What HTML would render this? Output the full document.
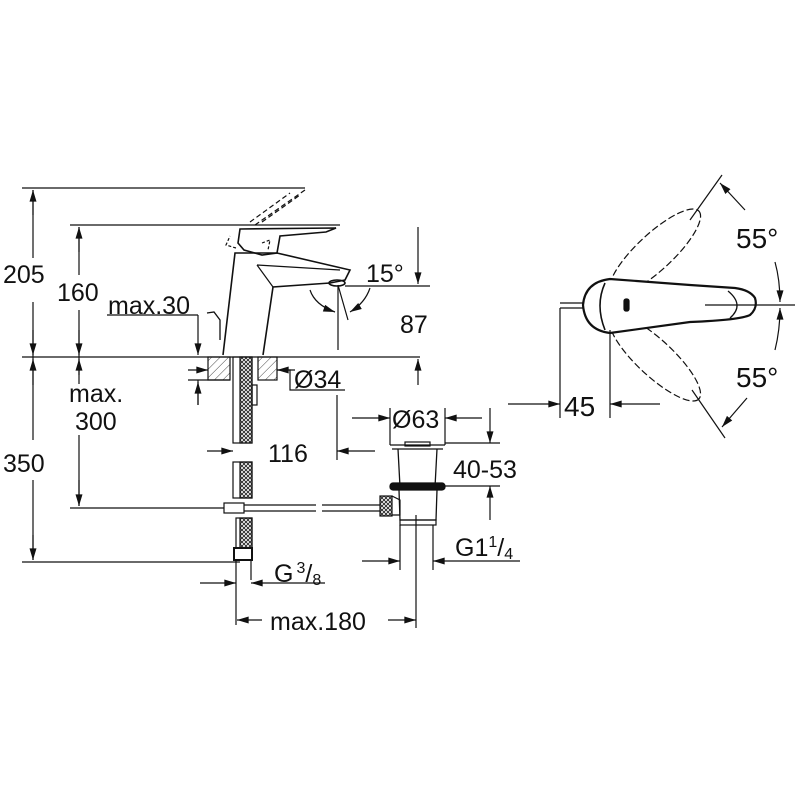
<!DOCTYPE html>
<html><head><meta charset="utf-8"><style>
html,body{margin:0;padding:0;background:#fff}
svg{display:block}
text{font-family:"Liberation Sans",sans-serif;fill:#111}
</style></head><body>
<svg width="799" height="799" viewBox="0 0 799 799" xmlns="http://www.w3.org/2000/svg">
<defs>
<marker id="a" viewBox="0 0 10 6" refX="10" refY="3" markerWidth="12" markerHeight="7" orient="auto-start-reverse" markerUnits="userSpaceOnUse"><path d="M0,0L10,3L0,6z" fill="#111"/></marker>
<pattern id="br" width="4" height="4" patternUnits="userSpaceOnUse"><path d="M0,0L4,4M4,0L0,4" stroke="#222" stroke-width="0.9"/></pattern>
<pattern id="ht" width="6" height="6" patternUnits="userSpaceOnUse" patternTransform="rotate(45)"><path d="M0,0V6" stroke="#333" stroke-width="0.9"/></pattern>
</defs>
<g stroke="#111" stroke-width="1.2" fill="none">
<line x1="22" y1="188" x2="305" y2="188"/>
<line x1="70" y1="225" x2="340" y2="225"/>
<line x1="22" y1="357" x2="420" y2="357"/>
<line x1="22" y1="562" x2="240" y2="562"/>
<line x1="70" y1="508" x2="240" y2="508"/>
<line x1="33" y1="190" x2="33" y2="258"/>
<line x1="33" y1="302" x2="33" y2="440"/>
<line x1="33" y1="480" x2="33" y2="560"/>
<line x1="33" y1="190" x2="33" y2="215" marker-start="url(#a)"/>
<line x1="33" y1="330" x2="33" y2="355" marker-end="url(#a)"/>
<line x1="33" y1="359" x2="33" y2="385" marker-start="url(#a)"/>
<line x1="33" y1="535" x2="33" y2="560" marker-end="url(#a)"/>
<line x1="79" y1="227" x2="79" y2="275"/>
<line x1="79" y1="310" x2="79" y2="375"/>
<line x1="79" y1="435" x2="79" y2="506"/>
<line x1="79" y1="227" x2="79" y2="252" marker-start="url(#a)"/>
<line x1="79" y1="330" x2="79" y2="355" marker-end="url(#a)"/>
<line x1="79" y1="359" x2="79" y2="384" marker-start="url(#a)"/>
<line x1="79" y1="480" x2="79" y2="506" marker-end="url(#a)"/>
<line x1="107" y1="315" x2="198" y2="315"/>
<line x1="198" y1="315" x2="198" y2="355" marker-end="url(#a)"/>
<line x1="198" y1="380" x2="198" y2="405"/>
<line x1="198" y1="405" x2="198" y2="382" marker-end="url(#a)"/>
<line x1="188" y1="380" x2="230" y2="380"/>
<path d="M223,355 L235,253 L277,253 L350,270 L345,280 L330,283 L273,287 L263,355" stroke-width="1.6"/>
<path d="M257,265 L340,270 M257,265 L273,287"/>
<path d="M240,229 L336,228 L326,232 L280,236 L277,253 L262,255 L244,250 L238,243 Z" stroke-width="1.6"/>
<path d="M262,243 L270,240 L268,250" stroke-dasharray="3,2"/>
<path d="M236,248 L226,245 L230,236" stroke-dasharray="3,2"/>
<path d="M255,225 L305,190 M262,222 L300,195 M250,222 L290,193" stroke-dasharray="5,3"/>
<ellipse cx="337" cy="283" rx="8" ry="3" stroke-width="1.6"/>
<path d="M207,313 L214,312 L220,320 L220,340" stroke-width="1.3"/>
<line x1="338" y1="285" x2="338" y2="350"/>
<line x1="338" y1="285" x2="348" y2="320"/>
<line x1="345" y1="286" x2="430" y2="286"/>
<path d="M310,290 Q315,305 335,312" marker-end="url(#a)"/>
<path d="M370,288 Q365,303 350,312" marker-end="url(#a)"/>
<line x1="418" y1="227" x2="418" y2="284" marker-end="url(#a)"/>
<line x1="418" y1="385" x2="418" y2="359" marker-end="url(#a)"/>
<rect x="208" y="357" width="22" height="23" fill="url(#ht)"/>
<rect x="258" y="357" width="19" height="23" fill="url(#ht)"/>
<line x1="188" y1="370" x2="208" y2="370" marker-end="url(#a)"/>
<line x1="295" y1="370" x2="277" y2="370" marker-end="url(#a)"/>
<path d="M277,370 L290,370 L290,390 L345,390"/>
<rect x="233" y="357" width="19" height="86"/>
<rect x="240" y="357" width="12" height="86" fill="url(#br)"/>
<rect x="252" y="385" width="5" height="20"/>
<rect x="233" y="462" width="19" height="36"/>
<rect x="240" y="462" width="12" height="36" fill="url(#br)"/>
<rect x="236" y="518" width="16" height="30"/>
<rect x="240" y="518" width="12" height="30" fill="url(#br)"/>
<rect x="234" y="548" width="18" height="12" stroke-width="2"/>
<line x1="236" y1="560" x2="236" y2="625"/>
<line x1="251" y1="560" x2="251" y2="580"/>
<rect x="224" y="503" width="20" height="10" fill="#fff"/>
<line x1="244" y1="505" x2="316" y2="505"/>
<line x1="244" y1="511" x2="316" y2="511"/>
<line x1="322" y1="505" x2="380" y2="505"/>
<line x1="322" y1="511" x2="380" y2="511"/>
<line x1="207" y1="451" x2="233" y2="451" marker-end="url(#a)"/>
<line x1="337" y1="395" x2="337" y2="460"/>
<line x1="375" y1="451" x2="337" y2="451" marker-end="url(#a)"/>
<line x1="200" y1="583" x2="236" y2="583" marker-end="url(#a)"/>
<line x1="325" y1="583" x2="251" y2="583" marker-end="url(#a)"/>
<line x1="262" y1="620" x2="237" y2="620" marker-end="url(#a)"/>
<line x1="388" y1="620" x2="416" y2="620" marker-end="url(#a)"/>
<line x1="416" y1="515" x2="416" y2="628"/>
<path d="M390,445 L445,445 M392,449 L443,449 M398,449 L400,487 M437,449 L435,487" stroke-width="1.3"/>
<rect x="405" y="442" width="25" height="4"/>
<rect x="390" y="483" width="55" height="7" rx="3" fill="#111"/>
<path d="M399,490 L400,520 L436,520 L437,490" stroke-width="1.3"/>
<rect x="380" y="496" width="12" height="20" fill="url(#br)"/>
<path d="M392,496 L400,500 L400,515 L392,515"/>
<rect x="400" y="520" width="36" height="5"/>
<line x1="400" y1="525" x2="400" y2="570"/>
<line x1="433" y1="525" x2="433" y2="570"/>
<line x1="390" y1="408" x2="390" y2="445"/>
<line x1="445" y1="408" x2="445" y2="445"/>
<line x1="352" y1="418" x2="390" y2="418" marker-end="url(#a)"/>
<line x1="482" y1="418" x2="445" y2="418" marker-end="url(#a)"/>
<line x1="445" y1="443" x2="500" y2="443"/>
<line x1="445" y1="486" x2="500" y2="486"/>
<line x1="490" y1="408" x2="490" y2="443" marker-end="url(#a)"/>
<line x1="490" y1="520" x2="490" y2="486" marker-end="url(#a)"/>
<line x1="362" y1="561" x2="400" y2="561" marker-end="url(#a)"/>
<line x1="520" y1="561" x2="433" y2="561" marker-end="url(#a)"/>
<!-- right view -->
<g stroke-dasharray="7,3" stroke-width="1.2">
<ellipse cx="655" cy="252" rx="60" ry="18" transform="rotate(-43 655 252)"/>
<ellipse cx="655" cy="358" rx="60" ry="18" transform="rotate(43 655 358)"/>
</g>
<path d="M610,279 Q585,282 583,305 Q585,330 610,333 L690,322 Q740,320 750,315 Q758,308 755,298 Q750,290 735,288 L690,285 Z" fill="#fff" stroke-width="2.2"/>
<path d="M605,283 Q595,305 605,330" stroke-width="1.6"/>
<path d="M728,291 Q745,305 730,318" stroke-width="1.3"/>
<rect x="624" y="299" width="5" height="12" fill="#111" rx="2"/>
<path d="M560,303 L583,303 M560,308 L583,308"/>
<line x1="705" y1="305" x2="795" y2="305"/>
<line x1="690" y1="220" x2="722" y2="175"/>
<line x1="692" y1="390" x2="725" y2="438"/>
<line x1="560" y1="308" x2="560" y2="418"/>
<line x1="610" y1="330" x2="610" y2="418"/>
<line x1="508" y1="404" x2="560" y2="404" marker-end="url(#a)"/>
<line x1="660" y1="404" x2="610" y2="404" marker-end="url(#a)"/>
<path d="M745,210 L720,183" marker-end="url(#a)"/>
<path d="M775,262 Q780,280 780,302" marker-end="url(#a)"/>
<path d="M775,350 Q780,330 780,308" marker-end="url(#a)"/>
<path d="M747,398 L722,427" marker-end="url(#a)"/>
</g>
<g font-size="25">
<text x="3" y="283">205</text>
<text x="57" y="301">160</text>
<text x="108" y="314">max.30</text>
<text x="69" y="402">max.</text>
<text x="75" y="430">300</text>
<text x="3" y="472">350</text>
<text x="366" y="282">15°</text>
<text x="400" y="333">87</text>
<text x="294" y="388">Ø34</text>
<text x="268" y="462">116</text>
<text x="392" y="428">Ø63</text>
<text x="453" y="478">40-53</text>
<text x="455" y="556">G1<tspan font-size="16" dy="-9">1</tspan><tspan dy="9">/</tspan><tspan font-size="16" dy="3">4</tspan></text>
<text x="274" y="582">G<tspan font-size="16" dy="-9" dx="3">3</tspan><tspan dy="9">/</tspan><tspan font-size="16" dy="3">8</tspan></text>
<text x="270" y="630">max.180</text>
<text x="564" y="416" font-size="28">45</text>
<text x="736" y="248" font-size="28">55°</text>
<text x="736" y="387" font-size="28">55°</text>
</g>
</svg>
</body></html>
